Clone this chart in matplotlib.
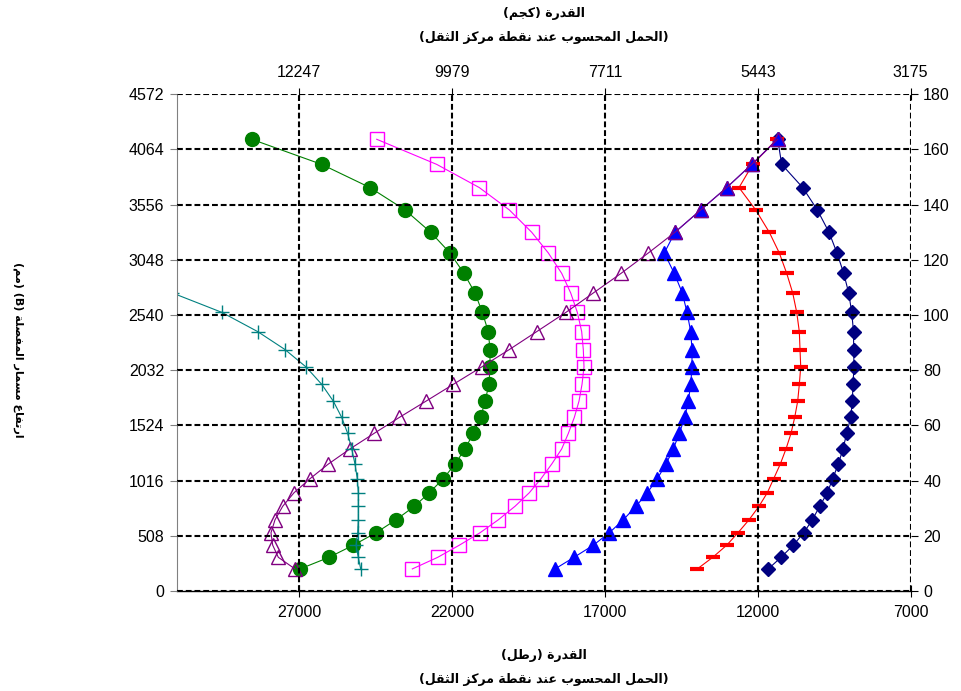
# -*- coding:utf-8 -*-
# load at centre of gravity vs hinge pin height chart
import matplotlib
matplotlib.use('Agg')
from matplotlib import pyplot as plt

# heights of the hinge pin (inches), shared by all series
y_in = [8.0, 12.2, 16.6, 21.1, 25.8, 30.7, 35.6, 40.7, 46.0, 51.5, 57.1, 62.9,
        68.8, 74.9, 81.2, 87.5, 94.0, 101.0, 108.0, 115.1, 122.5, 130.0, 138.1,
        146.2, 154.6, 163.7]

# load (lb) for each series, same order as y_in
navy_lb = [11656, 11241, 10839, 10498, 10217, 9975, 9727, 9550, 9367, 9214, 9093,
           8962, 8909, 8887, 8854, 8864, 8870, 8929, 9027, 9190, 9410, 9671,
           10053, 10531, 11218, 11349]
red_lb = [13977, 13474, 13016, 12647, 12287, 11960, 11689, 11480, 11264, 11077,
          10914, 10793, 10695, 10642, 10596, 10619, 10642, 10727, 10858, 11054,
          11296, 11623, 12068, 12614, 12166, 11381]
blue_lb = [18630, 18009, 17378, 16855, 16397, 15982, 15612, 15285, 15001, 14762,
           14566, 14389, 14272, 14193, 14151, 14151, 14193, 14314, 14468, 14730,
           15057, 14707, 13866, 13016, 12199, 11349]
purple_lb = [27132, 27677, 27861, 27917, 27786, 27534, 27165, 26641, 26043, 25333,
             24549, 23721, 22848, 21955, 21027, 20124, 19229, 18270, 17378, 16472,
             15579, 14707, 13866, 13016, 12199, 11349]
magenta_lb = [23296, 22466, 21759, 21083, 20484, 19938, 19471, 19088, 18738, 18411,
              18195, 17999, 17846, 17747, 17682, 17705, 17758, 17901, 18117, 18411,
              18849, 19392, 20124, 21106, 22498, 24460]
green_lb = [26968, 26020, 25225, 24483, 23829, 23230, 22740, 22283, 21900, 21573,
            21302, 21060, 20919, 20788, 20756, 20756, 20811, 21008, 21246, 21606,
            22064, 22695, 23535, 24680, 26259, 28548]
teal_lb = [24984, 25062, 25137, 25082, 25062, 25062, 25062, 25095, 25170, 25278,
           25409, 25605, 25879, 26259, 26772, 27459, 28351, 29529, 31140]

lb_ticks = [27000, 22000, 17000, 12000, 7000]
kg_labels = ['12247', '9979', '7711', '5443', '3175']
in_ticks = [0, 20, 40, 60, 80, 100, 120, 140, 160, 180]
mm_labels = ['0', '508', '1016', '1524', '2032', '2540', '3048', '3556', '4064', '4572']

title_top = ['القدرة (كجم)', '(الحمل المحسوب عند نقطة مركز الثقل)']
title_bottom = ['القدرة (رطل)', '(الحمل المحسوب عند نقطة مركز الثقل)']
ylabel = 'ارتفاع مسمار المفصلة (B) (مم)'

# arabic presentation forms: isolated, final, initial, medial
FORMS = {
    'ا': (0xFE8D, 0xFE8E, None, None), 'ب': (0xFE8F, 0xFE90, 0xFE91, 0xFE92),
    'ة': (0xFE93, 0xFE94, None, None), 'ت': (0xFE95, 0xFE96, 0xFE97, 0xFE98),
    'ث': (0xFE99, 0xFE9A, 0xFE9B, 0xFE9C), 'ج': (0xFE9D, 0xFE9E, 0xFE9F, 0xFEA0),
    'ح': (0xFEA1, 0xFEA2, 0xFEA3, 0xFEA4), 'د': (0xFEA9, 0xFEAA, None, None),
    'ر': (0xFEAD, 0xFEAE, None, None), 'ز': (0xFEAF, 0xFEB0, None, None),
    'س': (0xFEB1, 0xFEB2, 0xFEB3, 0xFEB4), 'ص': (0xFEB9, 0xFEBA, 0xFEBB, 0xFEBC),
    'ط': (0xFEC1, 0xFEC2, 0xFEC3, 0xFEC4), 'ع': (0xFEC9, 0xFECA, 0xFECB, 0xFECC),
    'ف': (0xFED1, 0xFED2, 0xFED3, 0xFED4), 'ق': (0xFED5, 0xFED6, 0xFED7, 0xFED8),
    'ك': (0xFED9, 0xFEDA, 0xFEDB, 0xFEDC), 'ل': (0xFEDD, 0xFEDE, 0xFEDF, 0xFEE0),
    'م': (0xFEE1, 0xFEE2, 0xFEE3, 0xFEE4), 'ن': (0xFEE5, 0xFEE6, 0xFEE7, 0xFEE8),
    'و': (0xFEED, 0xFEEE, None, None), 'ي': (0xFEF1, 0xFEF2, 0xFEF3, 0xFEF4),
}


def arabic(text):
    # shape letters by context, then put them in visual (left to right) order
    out = []
    for i, c in enumerate(text):
        if c not in FORMS:
            out.append(c)
            continue
        prev = text[i - 1] if i > 0 else ''
        nxt = text[i + 1] if i + 1 < len(text) else ''
        join_prev = prev in FORMS and FORMS[prev][2] is not None
        join_next = nxt in FORMS and FORMS[c][2] is not None
        f = FORMS[c]
        if join_prev and join_next:
            out.append(chr(f[3]))
        elif join_prev:
            out.append(chr(f[1]))
        elif join_next:
            out.append(chr(f[2]))
        else:
            out.append(chr(f[0]))
    swap = {'(': ')', ')': '('}
    return ''.join(swap.get(c, c) for c in reversed(out))


FONT = ['Liberation Sans', 'DejaVu Sans']
AR_FONT = ['DejaVu Sans']
plt.rcParams['font.family'] = FONT

fig = plt.figure(figsize=(9.61, 6.91), dpi=100)
ax = fig.add_axes([176.7 / 961, 1 - 591 / 691, 734 / 961, 496.7 / 691])

series = [
    (navy_lb, '#000080', dict(marker='D', ms=7.5, mfc='#000080', mec='#000080')),
    (red_lb, '#FF0000', dict(marker='_', ms=10, mew=3, mec='#FF0000')),
    (blue_lb, '#0000FF', dict(marker='^', ms=10, mfc='#0000FF', mec='#0000FF')),
    (green_lb, '#008000', dict(marker='o', ms=10, mfc='#008000', mec='#008000')),
    (magenta_lb, '#FF00FF', dict(marker='s', ms=9.5, mfc='none', mec='#FF00FF', mew=1)),
    (purple_lb, '#800080', dict(marker='^', ms=10, mfc='none', mec='#800080', mew=1)),
    (teal_lb, '#008080', dict(marker='+', ms=10, mew=1, mec='#008080')),
]
for xs, col, mk in series:
    ax.plot(xs, y_in[:len(xs)], color=col, lw=0.8, **mk)

ax.set_xlim(31000, 7000)
ax.set_ylim(0, 180)
ax.set_xticks(lb_ticks)
ax.set_yticks(in_ticks)
ax.set_yticklabels(mm_labels)
ax.grid(True, color='black', lw=1.5, ls=(0, (2.8, 1.4)))
ax.set_axisbelow(False)
ax.tick_params(axis='x', direction='inout', length=8, width=0.8, labelsize=11.5, pad=6)
ax.tick_params(axis='y', direction='out', length=5, width=0.8, labelsize=11.5,
               color='#808080', pad=4)
ax.spines['top'].set_visible(False)
ax.spines['right'].set_visible(False)
ax.spines['left'].set_color('#808080')
ax.spines['bottom'].set_linewidth(1)

axr = ax.twinx()
axr.set_ylim(0, 180)
axr.set_yticks(in_ticks)
axr.tick_params(axis='y', direction='out', length=5, width=0.8, labelsize=11.5, pad=4)
for s in axr.spines.values():
    s.set_visible(False)

axt = ax.twiny()
axt.set_xlim(31000, 7000)
axt.set_xticks(lb_ticks)
axt.set_xticklabels(kg_labels)
axt.tick_params(axis='x', direction='inout', length=8, width=0.8, labelsize=11.5, pad=6)
for s in axt.spines.values():
    s.set_visible(False)

cx = (176.7 + 910.7) / 2 / 961
fig.text(cx, 1 - 13 / 691, arabic(title_top[0]), family=AR_FONT, weight='bold',
         fontsize=9, ha='center', va='center')
fig.text(cx, 1 - 38 / 691, arabic(title_top[1]), family=AR_FONT, weight='bold',
         fontsize=9, ha='center', va='center')
fig.text(cx, 1 - 655 / 691, arabic(title_bottom[0]), family=AR_FONT, weight='bold',
         fontsize=9, ha='center', va='center')
fig.text(cx, 1 - 680 / 691, arabic(title_bottom[1]), family=AR_FONT, weight='bold',
         fontsize=9, ha='center', va='center')
fig.text(18 / 961, 1 - 350 / 691, arabic(ylabel), family=AR_FONT, weight='bold',
         fontsize=8, ha='center', va='center', rotation=-90)

fig.savefig('out.png', dpi=100)
